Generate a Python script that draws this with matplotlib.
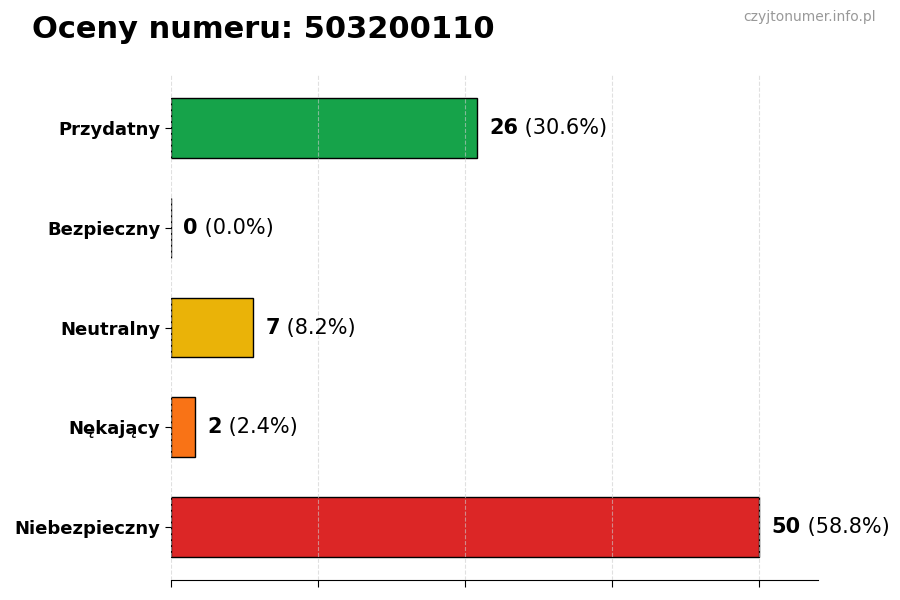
import matplotlib
matplotlib.use("Agg")
import matplotlib.pyplot as plt

# data (top to bottom)
categories = ["Przydatny", "Bezpieczny", "Neutralny", "Nękający", "Niebezpieczny"]
counts = [26, 0, 7, 2, 50]
percents = ["30.6%", "0.0%", "8.2%", "2.4%", "58.8%"]
colors = ["#16a34a", "#16a34a", "#eab308", "#f97316", "#dc2626"]
xticks = [0, 12.5, 25, 37.5, 50]

fig = plt.figure(figsize=(9, 6), dpi=100)
ax = fig.add_axes([0.19, 0.0333, 0.719, 0.8417])

ypos = list(range(len(categories)))
ax.barh(ypos, counts, height=0.6, color=colors, edgecolor="black",
        linewidth=1, zorder=2)
ax.invert_yaxis()
ax.set_xlim(0, 55)
ax.set_yticks(ypos)
ax.set_yticklabels(categories, fontsize=13, fontweight="bold")
ax.set_xticks(xticks)
ax.set_xticklabels([])
ax.tick_params(axis="x", length=5)
ax.tick_params(axis="y", length=4)
ax.grid(axis="x", linestyle="--", color="#cccccc", alpha=0.6, zorder=3)
ax.set_axisbelow(False)
for s in ["top", "right", "left"]:
    ax.spines[s].set_visible(False)

for y, c, p in zip(ypos, counts, percents):
    t = ax.annotate(str(c), xy=(c, y), xytext=(9, 0), textcoords="offset points",
                    va="center", ha="left", fontsize=15, fontweight="bold")
    ax.annotate(" (" + p + ")", xy=(1, 0), xycoords=t, va="bottom", ha="left",
                fontsize=15)

fig.text(0.036, 0.95, "Oceny numeru: 503200110", fontsize=22,
         fontweight="bold", va="center", ha="left")
fig.text(0.973, 0.972, "czyjtonumer.info.pl", fontsize=10, color="#999999",
         va="center", ha="right")

fig.savefig("out.png", dpi=100)
